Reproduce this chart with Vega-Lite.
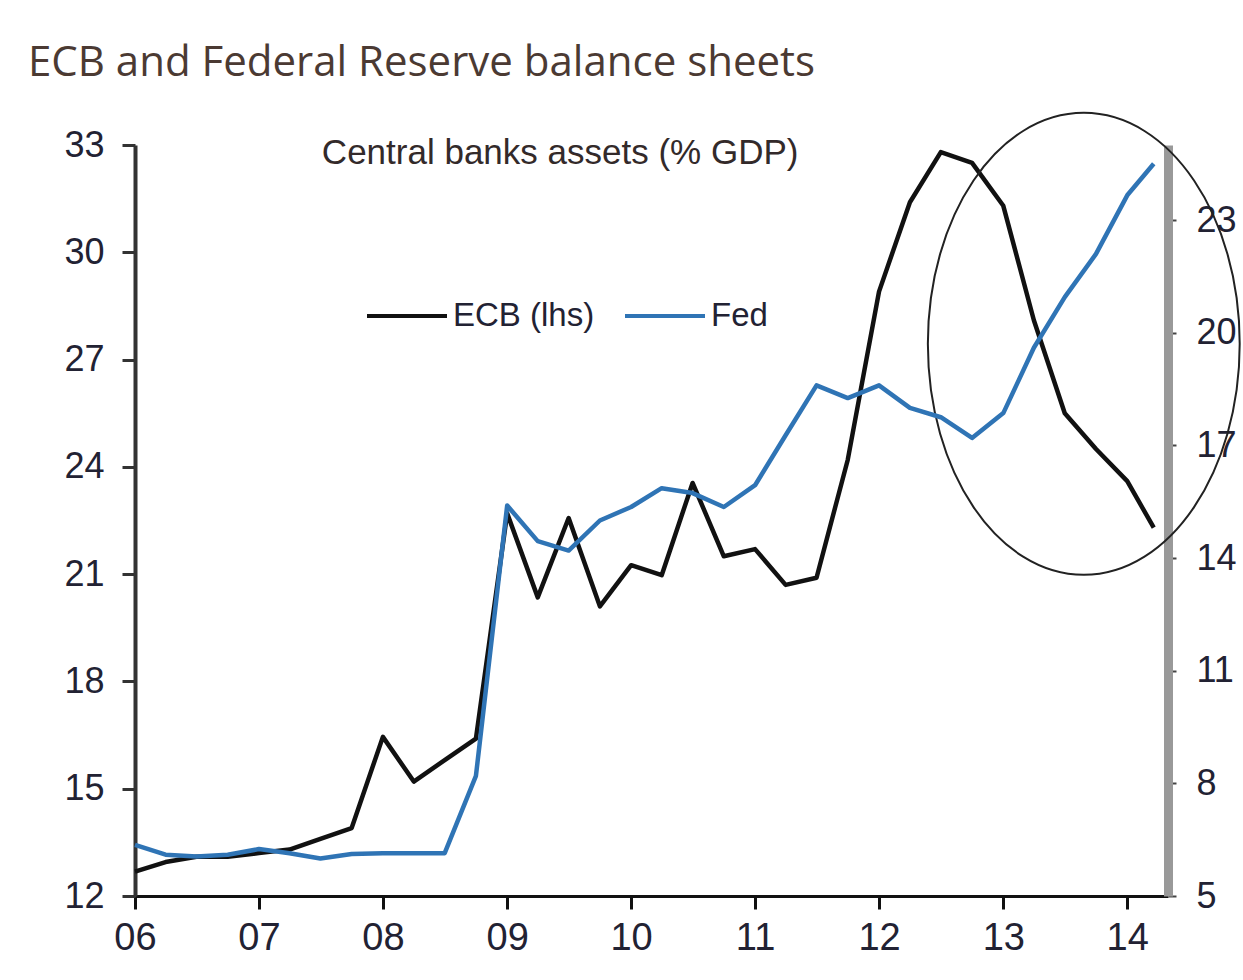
{
  "$schema": "https://vega.github.io/schema/vega-lite/v6.json",
  "autosize": {"type": "none"},
  "width": 1033,
  "height": 751,
  "padding": {"left": 135, "top": 145, "right": 75, "bottom": 84},
  "background": "white",
  "title": {
    "text": "ECB and Federal Reserve balance sheets",
    "anchor": "start",
    "frame": "group",
    "dx": -107,
    "dy": 6,
    "font": "Open Sans",
    "fontSize": 42,
    "fontWeight": "normal",
    "color": "#4b3a33",
    "offset": 30
  },
  "config": {
    "view": {"stroke": null},
    "axis": {"grid": false, "labelFont": "Liberation Sans", "labelColor": "#222233", "title": null}
  },
  "datasets": {
    "ecb": [
      {"date": "2006-01-01", "series": "ECB (lhs)", "value": 12.68},
      {"date": "2006-04-01", "series": "ECB (lhs)", "value": 12.95},
      {"date": "2006-07-01", "series": "ECB (lhs)", "value": 13.1},
      {"date": "2006-10-01", "series": "ECB (lhs)", "value": 13.1},
      {"date": "2007-01-01", "series": "ECB (lhs)", "value": 13.2},
      {"date": "2007-04-01", "series": "ECB (lhs)", "value": 13.3},
      {"date": "2007-07-01", "series": "ECB (lhs)", "value": 13.6},
      {"date": "2007-10-01", "series": "ECB (lhs)", "value": 13.9},
      {"date": "2008-01-01", "series": "ECB (lhs)", "value": 16.45},
      {"date": "2008-04-01", "series": "ECB (lhs)", "value": 15.2},
      {"date": "2008-07-01", "series": "ECB (lhs)", "value": 15.8},
      {"date": "2008-10-01", "series": "ECB (lhs)", "value": 16.4},
      {"date": "2009-01-01", "series": "ECB (lhs)", "value": 22.7},
      {"date": "2009-04-01", "series": "ECB (lhs)", "value": 20.35},
      {"date": "2009-07-01", "series": "ECB (lhs)", "value": 22.57},
      {"date": "2009-10-01", "series": "ECB (lhs)", "value": 20.1},
      {"date": "2010-01-01", "series": "ECB (lhs)", "value": 21.25},
      {"date": "2010-04-01", "series": "ECB (lhs)", "value": 20.97},
      {"date": "2010-07-01", "series": "ECB (lhs)", "value": 23.55},
      {"date": "2010-10-01", "series": "ECB (lhs)", "value": 21.5},
      {"date": "2011-01-01", "series": "ECB (lhs)", "value": 21.7},
      {"date": "2011-04-01", "series": "ECB (lhs)", "value": 20.7},
      {"date": "2011-07-01", "series": "ECB (lhs)", "value": 20.9},
      {"date": "2011-10-01", "series": "ECB (lhs)", "value": 24.2},
      {"date": "2012-01-01", "series": "ECB (lhs)", "value": 28.9},
      {"date": "2012-04-01", "series": "ECB (lhs)", "value": 31.4},
      {"date": "2012-07-01", "series": "ECB (lhs)", "value": 32.8},
      {"date": "2012-10-01", "series": "ECB (lhs)", "value": 32.5},
      {"date": "2013-01-01", "series": "ECB (lhs)", "value": 31.3},
      {"date": "2013-04-01", "series": "ECB (lhs)", "value": 28.1},
      {"date": "2013-07-01", "series": "ECB (lhs)", "value": 25.5},
      {"date": "2013-10-01", "series": "ECB (lhs)", "value": 24.5},
      {"date": "2014-01-01", "series": "ECB (lhs)", "value": 23.6},
      {"date": "2014-03-20", "series": "ECB (lhs)", "value": 22.3}
    ],
    "fed": [
      {"date": "2006-01-01", "series": "Fed", "value": 6.36},
      {"date": "2006-04-01", "series": "Fed", "value": 6.1},
      {"date": "2006-07-01", "series": "Fed", "value": 6.05},
      {"date": "2006-10-01", "series": "Fed", "value": 6.1},
      {"date": "2007-01-01", "series": "Fed", "value": 6.25},
      {"date": "2007-04-01", "series": "Fed", "value": 6.14},
      {"date": "2007-07-01", "series": "Fed", "value": 6.0},
      {"date": "2007-10-01", "series": "Fed", "value": 6.12},
      {"date": "2008-01-01", "series": "Fed", "value": 6.14},
      {"date": "2008-04-01", "series": "Fed", "value": 6.14},
      {"date": "2008-07-01", "series": "Fed", "value": 6.14},
      {"date": "2008-10-01", "series": "Fed", "value": 8.2},
      {"date": "2009-01-01", "series": "Fed", "value": 15.4},
      {"date": "2009-04-01", "series": "Fed", "value": 14.45},
      {"date": "2009-07-01", "series": "Fed", "value": 14.2},
      {"date": "2009-10-01", "series": "Fed", "value": 15.0},
      {"date": "2010-01-01", "series": "Fed", "value": 15.36},
      {"date": "2010-04-01", "series": "Fed", "value": 15.86},
      {"date": "2010-07-01", "series": "Fed", "value": 15.73},
      {"date": "2010-10-01", "series": "Fed", "value": 15.36},
      {"date": "2011-01-01", "series": "Fed", "value": 15.94},
      {"date": "2011-04-01", "series": "Fed", "value": 17.27},
      {"date": "2011-07-01", "series": "Fed", "value": 18.6},
      {"date": "2011-10-01", "series": "Fed", "value": 18.26},
      {"date": "2012-01-01", "series": "Fed", "value": 18.6},
      {"date": "2012-04-01", "series": "Fed", "value": 18.0},
      {"date": "2012-07-01", "series": "Fed", "value": 17.75},
      {"date": "2012-10-01", "series": "Fed", "value": 17.2},
      {"date": "2013-01-01", "series": "Fed", "value": 17.86},
      {"date": "2013-04-01", "series": "Fed", "value": 19.6},
      {"date": "2013-07-01", "series": "Fed", "value": 20.95},
      {"date": "2013-10-01", "series": "Fed", "value": 22.1},
      {"date": "2014-01-01", "series": "Fed", "value": 23.66},
      {"date": "2014-03-20", "series": "Fed", "value": 24.5}
    ],
    "notes": [
      {"label": "Central banks assets (% GDP)"}
    ]
  },
  "layer": [
    {
      "layer": [
        {
          "data": {"name": "ecb"},
          "mark": {"type": "line", "strokeWidth": 4.5, "strokeJoin": "round"},
          "encoding": {
            "x": {
              "field": "date",
              "type": "temporal",
              "scale": {"domain": ["2006-01-01", "2014-05-01"], "nice": false},
              "axis": {
                "format": "%y",
                "tickCount": {"interval": "year", "step": 1},
                "domainColor": "#111111",
                "domainWidth": 3,
                "tickColor": "#111111",
                "tickWidth": 3,
                "tickSize": 13,
                "labelFontSize": 38,
                "labelPadding": 10,
                "labelFlush": false
              }
            },
            "y": {
              "field": "value",
              "type": "quantitative",
              "scale": {"domain": [12, 33], "nice": false, "zero": false},
              "axis": {
                "values": [12, 15, 18, 21, 24, 27, 30, 33],
                "domainColor": "#333333",
                "domainWidth": 4,
                "tickColor": "#333333",
                "tickWidth": 3,
                "tickSize": 13,
                "labelFontSize": 36,
                "labelPadding": 18
              }
            },
            "color": {
              "field": "series",
              "type": "nominal",
              "scale": {"domain": ["ECB (lhs)", "Fed"], "range": ["#111111", "#2f74b5"]},
              "legend": {
                "orient": "none",
                "legendX": 230,
                "legendY": 129,
                "direction": "horizontal",
                "title": null,
                "symbolType": "stroke",
                "symbolSize": 6400,
                "symbolStrokeWidth": 4,
                "labelFont": "Liberation Sans",
                "labelFontSize": 33,
                "labelColor": "#222233",
                "labelOffset": 4,
                "columnPadding": 22
              }
            }
          }
        },
        {
          "data": {"name": "notes"},
          "mark": {"type": "text", "font": "Liberation Sans", "fontSize": 35, "color": "#332a2a", "align": "center", "baseline": "middle"},
          "encoding": {
            "x": {"datum": {"year": 2009, "month": 6, "date": 6}, "type": "temporal"},
            "y": {"datum": 32.78, "type": "quantitative"},
            "text": {"field": "label", "type": "nominal"}
          }
        },
        {
          "data": {"values": [{"note": "ellipse"}]},
          "mark": {
            "type": "point",
            "shape": "M-0.675,0A0.675,1,0,1,0,0.675,0A0.675,1,0,1,0,-0.675,0Z",
            "size": 213444,
            "filled": false,
            "stroke": "#222222",
            "strokeWidth": 2,
            "opacity": 1
          },
          "encoding": {
            "x": {"datum": {"year": 2013, "month": 8, "date": 26}, "type": "temporal"},
            "y": {"datum": 27.44, "type": "quantitative"}
          }
        }
      ]
    },
    {
      "data": {"name": "fed"},
      "mark": {"type": "line", "strokeWidth": 4.5, "strokeJoin": "round"},
      "encoding": {
        "x": {"field": "date", "type": "temporal"},
        "y": {
          "field": "value",
          "type": "quantitative",
          "scale": {"domain": [5, 25], "nice": false, "zero": false},
          "axis": {
            "orient": "right",
            "values": [5, 8, 11, 14, 17, 20, 23],
            "domainColor": "#999999",
            "domainWidth": 9,
            "tickColor": "#444444",
            "tickWidth": 2,
            "tickSize": 8,
            "labelFontSize": 36,
            "labelPadding": 20
          }
        },
        "color": {"field": "series", "type": "nominal"}
      }
    }
  ],
  "resolve": {"scale": {"y": "independent"}}
}
